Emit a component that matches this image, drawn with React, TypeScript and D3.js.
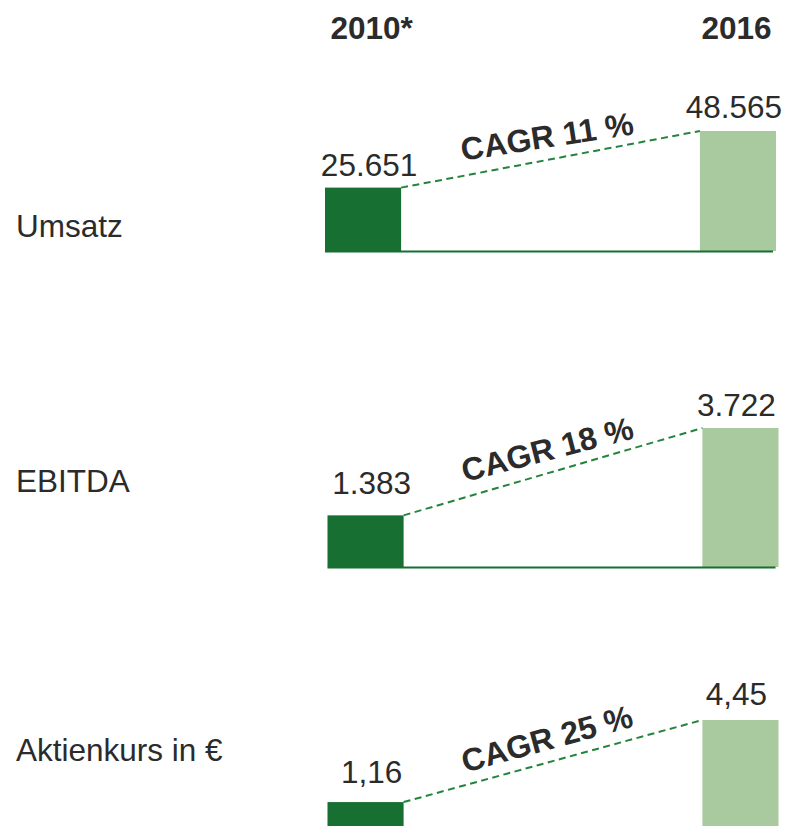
import React from "react";
import * as d3 from "d3";

// chart data
const years = ["2010*", "2016"];
const metrics = ["Umsatz", "EBITDA", "Aktienkurs in €"];
const values2010 = [25651, 1383, 1.16];
const values2016 = [48565, 3722, 4.45];
const valueLabels2010 = ["25.651", "1.383", "1,16"];
const valueLabels2016 = ["48.565", "3.722", "4,45"];
const cagrLabels = ["CAGR 11 %", "CAGR 18 %", "CAGR 25 %"];

// layout
const width = 785,
  height = 826;
const baselines = [251, 567, 831];
const barMaxHeights = [120, 139, 111];
const panelShift = [-2.5, 0, 0];
const metricLabelY = [237, 492, 761];
const labelGaps = [
  [12, 13],
  [21, 12],
  [19, 15],
];
const labelShift = [6, -4];
const cagrAngles = [-8.7, -14.5, -15.3];

const DARK = "#176f32";
const LIGHT = "#a9c99f";
const DASH = "#23843c";
const TEXT = "#2b2b2b";
const FONT = "'Liberation Sans', Arial, sans-serif";

export default function App() {
  const xScale = d3.scaleBand().domain(years).range([327.5, 778.5]).paddingInner(0.797).paddingOuter(0);
  const bw = xScale.bandwidth();

  return (
    <svg width={width} height={height} style={{ position: "absolute", left: 0, top: 0, background: "#fff" }} fontFamily={FONT}>
      {years.map((y, j) => (
        <text key={y} x={xScale(y)! + bw / 2 + labelShift[j]} y={39} textAnchor="middle" fontSize={31.5} fontWeight="bold" fill={TEXT}>
          {y}
        </text>
      ))}
      {metrics.map((m, i) => {
        const yScale = d3.scaleLinear().domain([0, values2016[i]]).range([baselines[i], baselines[i] - barMaxHeights[i]]);
        const vals = [values2010[i], values2016[i]];
        const labels = [valueLabels2010[i], valueLabels2016[i]];
        const sx = panelShift[i];
        const x1 = xScale(years[0])! + sx;
        const x2 = xScale(years[1])! + sx;
        const p1: [number, number] = [x1 + bw, yScale(vals[0])];
        const p2: [number, number] = [x2, yScale(vals[1])];
        const mid = [(p1[0] + p2[0]) / 2, (p1[1] + p2[1]) / 2];
        const line = d3.line()([p1, p2]) as string;
        return (
          <g key={m}>
            <text x={16} y={metricLabelY[i]} fontSize={31.5} fill={TEXT}>
              {m}
            </text>
            {vals.map((v, j) => {
              const bx = xScale(years[j])! + sx;
              return (
                <g key={j}>
                  <rect x={bx} y={yScale(v)} width={bw} height={baselines[i] - yScale(v)} fill={j === 0 ? DARK : LIGHT} />
                  <text x={bx + bw / 2 + labelShift[j]} y={yScale(v) - labelGaps[i][j]} textAnchor="middle" fontSize={31.5} fill={TEXT}>
                    {labels[j]}
                  </text>
                </g>
              );
            })}
            <line x1={x1} x2={x2 + bw - 3} y1={baselines[i] + 0.5} y2={baselines[i] + 0.5} stroke={DARK} strokeWidth={2} />
            <path d={line} stroke={DASH} strokeWidth={2} strokeDasharray="7,4.5" fill="none" />
            <text
              transform={`translate(${mid[0]},${mid[1]}) rotate(${cagrAngles[i]})`}
              y={-12}
              textAnchor="middle"
              fontSize={32}
              fontWeight="bold"
              fill={TEXT}
            >
              {cagrLabels[i]}
            </text>
          </g>
        );
      })}
    </svg>
  );
}
